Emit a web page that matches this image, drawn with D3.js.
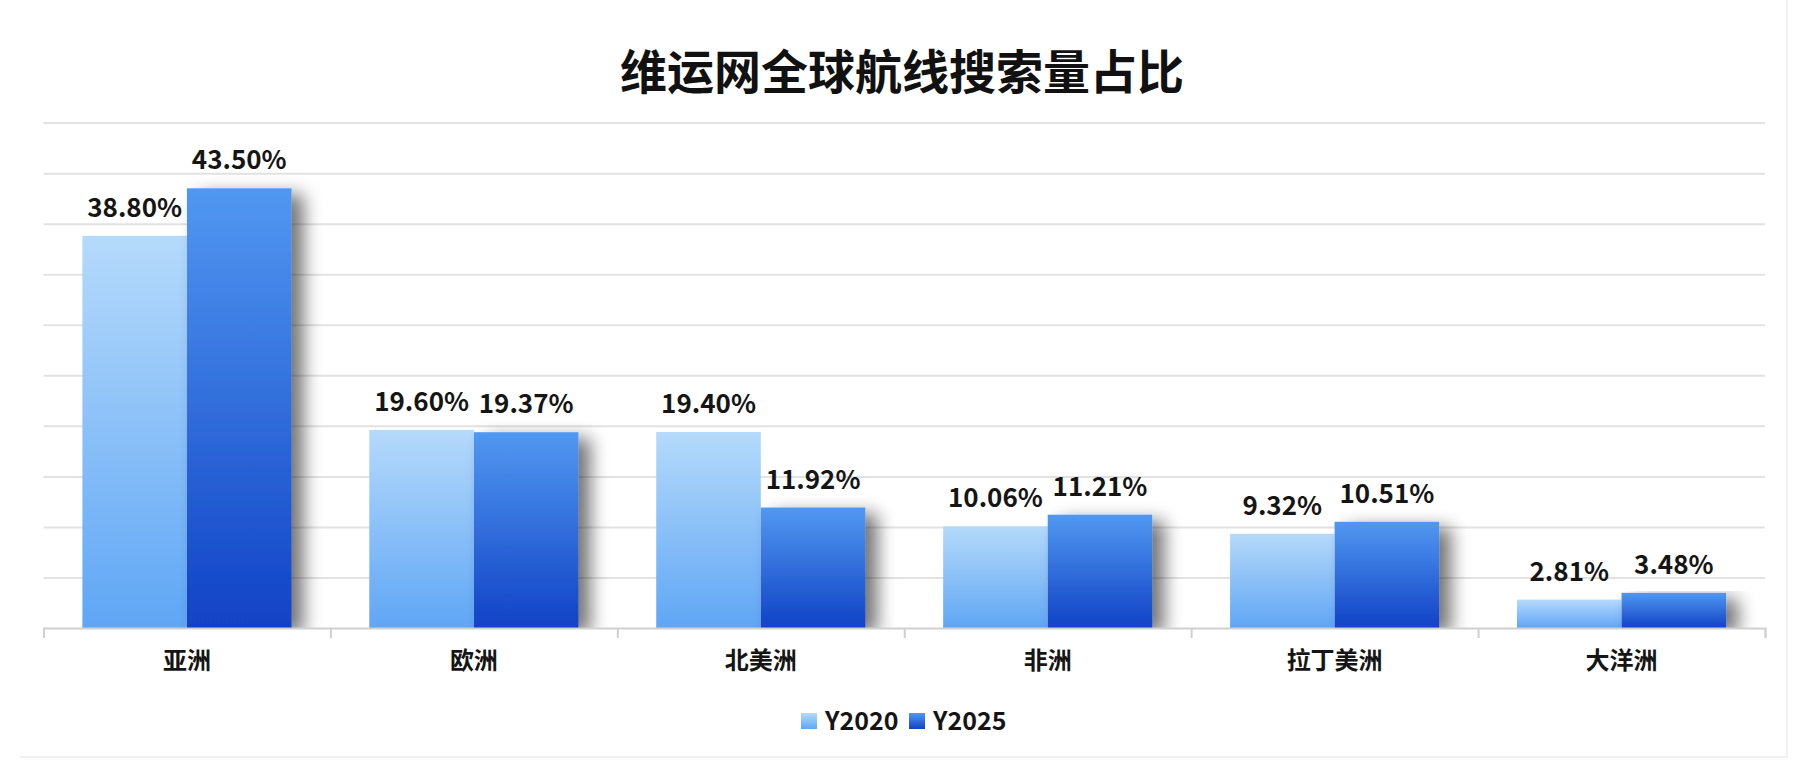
<!DOCTYPE html>
<html>
<head>
<meta charset="utf-8">
<script src="https://cdn.jsdelivr.net/npm/d3@7"></script>
<style>
  html, body { margin: 0; padding: 0; background: #fff; }
  svg { display: block; font-family: "Noto Sans CJK SC", "Noto Sans", sans-serif; }
</style>
</head>
<body>
<div id="chart"></div>
<script>
// data
const categories = ["亚洲", "欧洲", "北美洲", "非洲", "拉丁美洲", "大洋洲"];
const seriesNames = ["Y2020", "Y2025"];
const y2020 = [38.80, 19.60, 19.40, 10.06, 9.32, 2.81];
const y2025 = [43.50, 19.37, 11.92, 11.21, 10.51, 3.48];
const yTicks = [0, 5, 10, 15, 20, 25, 30, 35, 40, 45, 50];

const W = 1797, H = 761;
const margin = {top: 122.6, right: 32, bottom: 133, left: 43.5};
const width = W - margin.left - margin.right;
const height = H - margin.top - margin.bottom;

const svg = d3.select("#chart")
    .append("svg")
    .attr("width", W)
    .attr("height", H);

const defs = svg.append("defs");

// bar gradients
const grads = [
    {id: "g2020", top: "#b5dafb", bottom: "#5fa6f5"},
    {id: "g2025", top: "#5198f1", bottom: "#1142c6"}
];
grads.forEach(g => {
    const lg = defs.append("linearGradient")
        .attr("id", g.id)
        .attr("x1", 0).attr("y1", 0).attr("x2", 0).attr("y2", 1);
    lg.append("stop").attr("offset", "0%").attr("stop-color", g.top);
    lg.append("stop").attr("offset", "100%").attr("stop-color", g.bottom);
});

// shadow to the right of the dark bars
const f = defs.append("filter")
    .attr("id", "shadow")
    .attr("x", "-20%").attr("y", "-20%")
    .attr("width", "180%").attr("height", "150%");
f.append("feGaussianBlur").attr("in", "SourceAlpha").attr("stdDeviation", 9).attr("result", "b");
f.append("feOffset").attr("in", "b").attr("dx", 12).attr("dy", 6).attr("result", "o");
f.append("feComponentTransfer").attr("in", "o").attr("result", "s")
    .append("feFuncA").attr("type", "linear").attr("slope", 0.55);
const m = f.append("feMerge");
m.append("feMergeNode").attr("in", "s");
m.append("feMergeNode").attr("in", "SourceGraphic");

defs.append("clipPath").attr("id", "plotclip")
    .append("rect")
    .attr("x", -10).attr("y", -20)
    .attr("width", width + 40).attr("height", height + 20);

// outer frame (faint)
svg.append("line")
    .attr("x1", 1787).attr("x2", 1787).attr("y1", 0).attr("y2", 757)
    .attr("stroke", "#ececec").attr("stroke-width", 1.5);
svg.append("line")
    .attr("x1", 20).attr("x2", 1787).attr("y1", 757).attr("y2", 757)
    .attr("stroke", "#ececec").attr("stroke-width", 1.5);

// title
svg.append("text")
    .attr("x", 902)
    .attr("y", 89)
    .attr("text-anchor", "middle")
    .style("font-size", "47px")
    .style("font-weight", "bold")
    .attr("fill", "#111")
    .text("维运网全球航线搜索量占比");

const g = svg.append("g")
    .attr("transform", `translate(${margin.left},${margin.top})`);

const x = d3.scaleBand()
    .domain(categories)
    .range([0, width])
    .padding(0);

const inner = d3.scaleBand()
    .domain(seriesNames)
    .range([0, x.bandwidth()])
    .paddingInner(0)
    .paddingOuter(0.372);

const y = d3.scaleLinear()
    .domain([0, 50])
    .range([height, 0]);

// gridlines
const grid = g.append("g")
    .call(d3.axisLeft(y).tickValues(yTicks.slice(1)).tickSize(-width).tickFormat(""));
grid.select(".domain").remove();
grid.selectAll(".tick line").attr("stroke", "#e2e2e2").attr("stroke-width", 2);

const data = categories.map((c, i) => ({cat: c, values: [
    {key: "Y2020", value: y2020[i]},
    {key: "Y2025", value: y2025[i]}
]}));

const plot = g.append("g").attr("clip-path", "url(#plotclip)");

const groups = plot.selectAll("g.grp")
    .data(data)
    .enter().append("g")
    .attr("class", "grp")
    .attr("transform", d => `translate(${x(d.cat)},0)`);

groups.selectAll("rect")
    .data(d => d.values)
    .enter().append("rect")
    .attr("x", d => inner(d.key))
    .attr("y", d => y(d.value))
    .attr("width", inner.bandwidth())
    .attr("height", d => height - y(d.value))
    .attr("fill", d => d.key === "Y2020" ? "url(#g2020)" : "url(#g2025)")
    .attr("filter", d => d.key === "Y2025" ? "url(#shadow)" : null);

// value labels
const labels = g.append("g");
data.forEach(d => {
    labels.selectAll(null)
        .data(d.values)
        .enter().append("text")
        .attr("x", v => x(d.cat) + inner(v.key) + inner.bandwidth() / 2)
        .attr("y", v => y(v.value) - 19)
        .attr("text-anchor", "middle")
        .style("font-size", "26px")
        .style("font-weight", "bold")
        .attr("fill", "#151515")
        .text(v => v.value.toFixed(2) + "%");
});

// x axis: boundary ticks
const edge = d3.scaleLinear().domain([0, categories.length]).range([0, width]);
const xAxis = g.append("g")
    .attr("transform", `translate(0,${height})`)
    .call(d3.axisBottom(edge).tickValues(d3.range(categories.length + 1)).tickSize(10).tickFormat(""));
xAxis.select(".domain").attr("stroke", "#d0d0d0").attr("stroke-width", 2);
xAxis.selectAll(".tick line").attr("stroke", "#d0d0d0").attr("stroke-width", 2);

// category labels
const catAxis = g.append("g")
    .attr("transform", `translate(0,${height})`)
    .call(d3.axisBottom(x).tickSize(0).tickPadding(24));
catAxis.select(".domain").remove();
catAxis.selectAll("text")
    .style("font-size", "24px")
    .style("font-weight", "bold")
    .style("font-family", "'Noto Sans CJK SC', sans-serif")
    .attr("fill", "#151515");

// legend
const legendX = [801, 909];
const legend = svg.append("g")
    .selectAll("g")
    .data(seriesNames)
    .enter().append("g")
    .attr("transform", (d, i) => `translate(${legendX[i]},713)`);

legend.append("rect")
    .attr("width", 16)
    .attr("height", 16)
    .attr("fill", (d, i) => i === 0 ? "url(#g2020)" : "url(#g2025)");

legend.append("text")
    .attr("x", 24)
    .attr("y", 8)
    .attr("dy", "0.36em")
    .style("font-size", "25px")
    .style("font-weight", "bold")
    .attr("fill", "#151515")
    .text(d => d);
</script>
</body>
</html>
